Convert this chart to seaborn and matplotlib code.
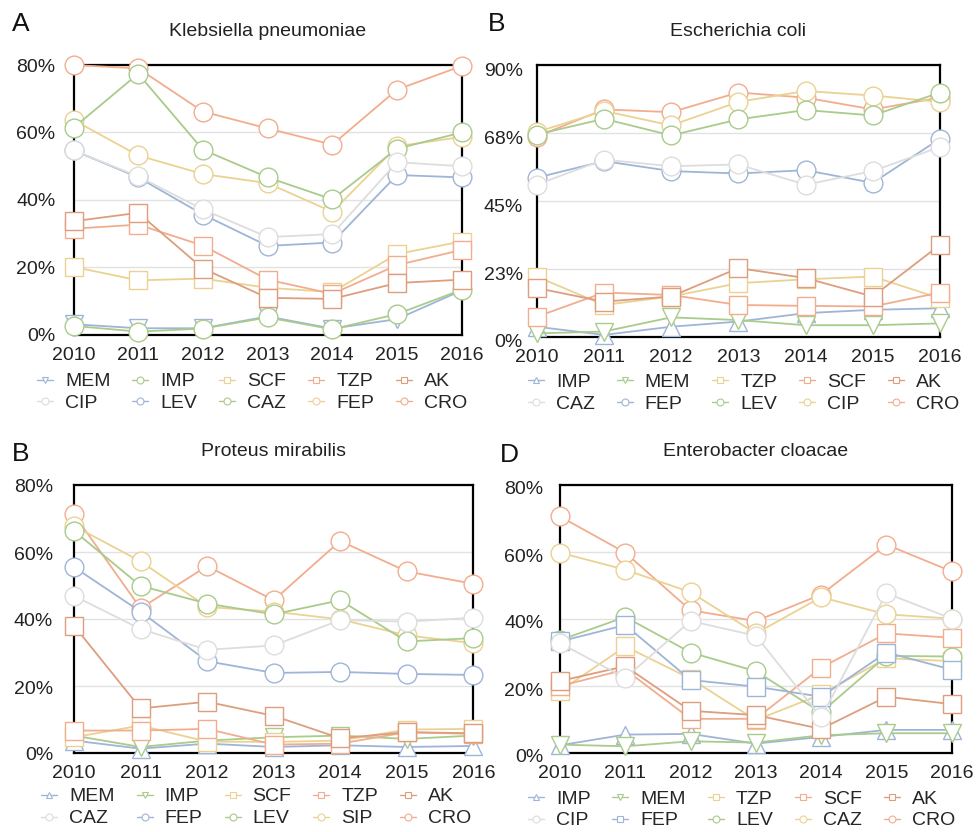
import matplotlib
matplotlib.use("Agg")
import matplotlib.pyplot as plt
from matplotlib.lines import Line2D
from matplotlib.transforms import ScaledTranslation
import seaborn as sns

years = [2010, 2011, 2012, 2013, 2014, 2015, 2016]

# A - Klebsiella pneumoniae
kp_drugs = ["MEM", "IMP", "SCF", "TZP", "AK", "CIP", "LEV", "CAZ", "FEP", "CRO"]
kp_values = {
    "MEM": [3.2, 2.0, 2.0, 5.5, 1.9, 4.7, 13.2],
    "IMP": [2.7, 1.0, 1.9, 5.2, 1.7, 6.2, 13.4],
    "SCF": [20.2, 16.2, 16.7, 14.0, 12.7, 24.0, 27.7],
    "TZP": [31.5, 32.7, 26.5, 16.4, 12.2, 20.7, 25.2],
    "AK": [33.7, 36.2, 19.7, 11.0, 10.7, 15.4, 16.4],
    "CIP": [54.7, 47.0, 37.2, 29.0, 29.9, 51.2, 50.0],
    "LEV": [54.7, 46.7, 35.7, 26.4, 27.4, 47.4, 46.7],
    "CAZ": [61.4, 77.4, 54.9, 46.7, 40.2, 55.2, 60.0],
    "FEP": [63.7, 53.2, 47.7, 45.0, 36.5, 55.9, 58.7],
    "CRO": [80.0, 79.0, 66.2, 61.2, 56.4, 72.7, 79.7],
}
kp_yticks = [0, 20, 40, 60, 80]
kp_yticklabels = ["0%", "20%", "40%", "60%", "80%"]

# B - Escherichia coli
ec_drugs = ["IMP", "MEM", "TZP", "SCF", "AK", "CAZ", "FEP", "LEV", "CIP", "CRO"]
ec_values = {
    "IMP": [3.4, 0.7, 3.4, 5.1, 7.9, 9.0, 9.5],
    "MEM": [1.2, 1.8, 6.5, 5.6, 3.9, 3.9, 4.5],
    "TZP": [20.0, 10.6, 13.4, 17.8, 19.1, 20.0, 12.8],
    "SCF": [6.7, 14.7, 13.9, 10.6, 10.3, 10.1, 14.7],
    "AK": [16.2, 11.7, 13.4, 22.8, 19.5, 13.4, 30.5],
    "CAZ": [50.4, 58.7, 56.5, 57.1, 50.4, 54.9, 62.9],
    "FEP": [52.7, 58.2, 54.9, 54.1, 55.2, 51.0, 65.6],
    "LEV": [67.0, 72.2, 66.7, 72.0, 75.1, 73.3, 80.9],
    "CIP": [67.8, 74.8, 70.0, 77.8, 81.4, 79.9, 77.8],
    "CRO": [66.3, 75.3, 74.4, 80.9, 79.2, 75.3, 79.2],
}
ec_yticks = [0, 22.5, 45, 67.5, 90]
ec_yticklabels = ["0%", "23%", "45%", "68%", "90%"]

# B (lower) - Proteus mirabilis
pm_drugs = ["MEM", "IMP", "SCF", "TZP", "AK", "CAZ", "FEP", "LEV", "SIP", "CRO"]
pm_values = {
    "MEM": [3.7, 1.3, 2.8, 1.8, 2.3, 1.8, 2.1],
    "IMP": [5.2, 1.8, 3.7, 4.7, 5.2, 4.2, 5.2],
    "SCF": [4.7, 8.2, 3.4, 3.3, 3.7, 7.0, 7.2],
    "TZP": [6.7, 6.7, 7.2, 2.5, 2.8, 6.2, 5.7],
    "AK": [38.0, 13.3, 15.3, 11.1, 4.4, 6.2, 5.9],
    "CAZ": [46.9, 37.0, 30.8, 32.1, 39.7, 39.2, 40.4],
    "FEP": [55.5, 42.2, 27.4, 23.9, 24.2, 23.6, 23.3],
    "LEV": [66.3, 49.9, 44.6, 41.4, 45.6, 33.3, 34.3],
    "SIP": [67.8, 57.2, 43.6, 42.2, 39.9, 35.1, 32.8],
    "CRO": [71.2, 43.2, 55.8, 45.6, 63.3, 54.2, 50.5],
}
pm_yticks = [0, 20, 40, 60, 80]
pm_yticklabels = ["0%", "20%", "40%", "60%", "80%"]

# D - Enterobacter cloacae
ecl_drugs = ["IMP", "MEM", "TZP", "SCF", "AK", "CIP", "FEP", "LEV", "CAZ", "CRO"]
ecl_values = {
    "IMP": [2.3, 5.5, 5.7, 2.8, 4.8, 6.9, 6.9],
    "MEM": [2.5, 2.0, 3.5, 3.1, 5.3, 5.9, 5.9],
    "TZP": [18.5, 31.8, 22.2, 9.8, 17.5, 28.3, 27.4],
    "SCF": [20.0, 24.9, 10.2, 10.2, 25.5, 35.7, 34.4],
    "AK": [21.5, 25.9, 12.6, 11.3, 7.2, 16.8, 14.6],
    "CIP": [32.8, 22.4, 39.4, 35.0, 10.6, 47.7, 40.1],
    "FEP": [33.3, 38.2, 21.8, 19.8, 16.8, 30.0, 24.9],
    "LEV": [33.7, 40.6, 30.0, 24.4, 12.1, 29.0, 28.8],
    "CAZ": [59.8, 54.7, 48.0, 35.7, 46.5, 41.4, 40.1],
    "CRO": [70.6, 59.8, 42.6, 39.4, 47.3, 62.2, 54.2],
}
ecl_yticks = [0, 20, 40, 60, 80]
ecl_yticklabels = ["0%", "20%", "40%", "60%", "80%"]

# colours by legend slot (row-major), markers differ a bit per panel
slot_colors = ["#9fb5d8", "#a9cb8b", "#ebd292", "#f2ad8e", "#dd9e7e",
               "#dddddd", "#9fb5d8", "#a9cb8b", "#ebd292", "#f2ad8e"]
kp_markers = ["v", "o", "s", "s", "s", "o", "o", "o", "o", "o"]
ec_markers = ["^", "v", "s", "s", "s", "o", "o", "o", "o", "o"]
pm_markers = ["^", "v", "s", "s", "s", "o", "o", "o", "o", "o"]
ecl_markers = ["^", "v", "s", "s", "s", "o", "s", "o", "o", "o"]

sns.set_theme(style="white")
plt.rcParams["font.family"] = ["Liberation Sans", "DejaVu Sans"]

fig = plt.figure(figsize=(9.77, 8.32), dpi=100)
W, H = 977, 832


def px_axes(left, right, top, bottom):
    return fig.add_axes([left / W, (H - bottom) / H, (right - left) / W, (bottom - top) / H])


def draw_panel(ax, title, drugs, values, markers, yticks, yticklabels,
               ylab_pad, ylab_shift, leg_xy):
    order = [0, 1, 2, 3, 4, 9, 8, 7, 6, 5]
    for i in order:
        drug = drugs[i]
        c = slot_colors[i]
        ms = 12.5 if markers[i] == "s" else 13.5
        sns.lineplot(x=years, y=values[drug], ax=ax, color=c, linewidth=1.3,
                     marker=markers[i], markersize=ms, markerfacecolor="white",
                     markeredgecolor=c, markeredgewidth=1.0, clip_on=False,
                     legend=False, zorder=3)
    ax.set_xlim(2010, 2016)
    ax.set_ylim(yticks[0], yticks[-1])
    ax.set_xticks(years)
    ax.set_xticklabels([str(y) for y in years])
    ax.set_yticks(yticks)
    ax.set_yticklabels(yticklabels)
    ax.set_xlabel("")
    ax.set_ylabel("")
    ax.yaxis.grid(True, color="#e2e2e2", linewidth=1.0)
    ax.xaxis.grid(False)
    ax.set_axisbelow(True)
    for sp in ax.spines.values():
        sp.set_visible(True)
        sp.set_color("black")
        sp.set_linewidth(1.6)
        sp.set_zorder(2)
    ax.tick_params(axis="both", length=0, labelsize=14, colors="#222222")
    ax.tick_params(axis="x", pad=9)
    ax.tick_params(axis="y", pad=ylab_pad)
    offset = ScaledTranslation(0, -ylab_shift / 100, fig.dpi_scale_trans)
    for lab in ax.get_yticklabels():
        lab.set_transform(lab.get_transform() + offset)
    ax.set_title(title, fontsize=14, pad=21, color="#222222")

    handles = []
    for i, drug in enumerate(drugs):
        handles.append(Line2D([0], [0], color=slot_colors[i], linewidth=1.0,
                              marker=markers[i], markersize=5,
                              markerfacecolor="white", markeredgecolor=slot_colors[i],
                              markeredgewidth=0.8, label=drug))
    # matplotlib fills legend columns first, so interleave the two rows
    col_order = [0, 5, 1, 6, 2, 7, 3, 8, 4, 9]
    ax.legend(handles=[handles[i] for i in col_order], ncol=5, loc="upper left",
              bbox_to_anchor=leg_xy, frameon=False, fontsize=14,
              handlelength=0.82, handletextpad=0.62, columnspacing=1.13,
              labelspacing=0.22, borderpad=0, borderaxespad=0)


ax_a = px_axes(73.5, 461.7, 65, 335)
ax_b = px_axes(536.7, 940, 65, 337)
ax_c = px_axes(74, 473.3, 485, 753)
ax_d = px_axes(560, 951.7, 485, 753)

draw_panel(ax_a, "Klebsiella pneumoniae", kp_drugs, kp_values, kp_markers,
           kp_yticks, kp_yticklabels, 13, 0, (-0.094, -0.14))
draw_panel(ax_b, "Escherichia coli", ec_drugs, ec_values, ec_markers,
           ec_yticks, ec_yticklabels, 10, 4, (-0.022, -0.133))
draw_panel(ax_c, "Proteus mirabilis", pm_drugs, pm_values, pm_markers,
           pm_yticks, pm_yticklabels, 15, 1, (-0.082, -0.13))
draw_panel(ax_d, "Enterobacter cloacae", ecl_drugs, ecl_values, ecl_markers,
           ecl_yticks, ecl_yticklabels, 12, 3, (-0.082, -0.138))

for letter, x, y in [("A", 12, 31), ("B", 488, 31), ("B", 12, 461), ("D", 500, 462)]:
    fig.text(x / W, 1 - y / H, letter, fontsize=19, va="baseline", ha="left", color="#111111")

fig.savefig("out.png", dpi=100)
